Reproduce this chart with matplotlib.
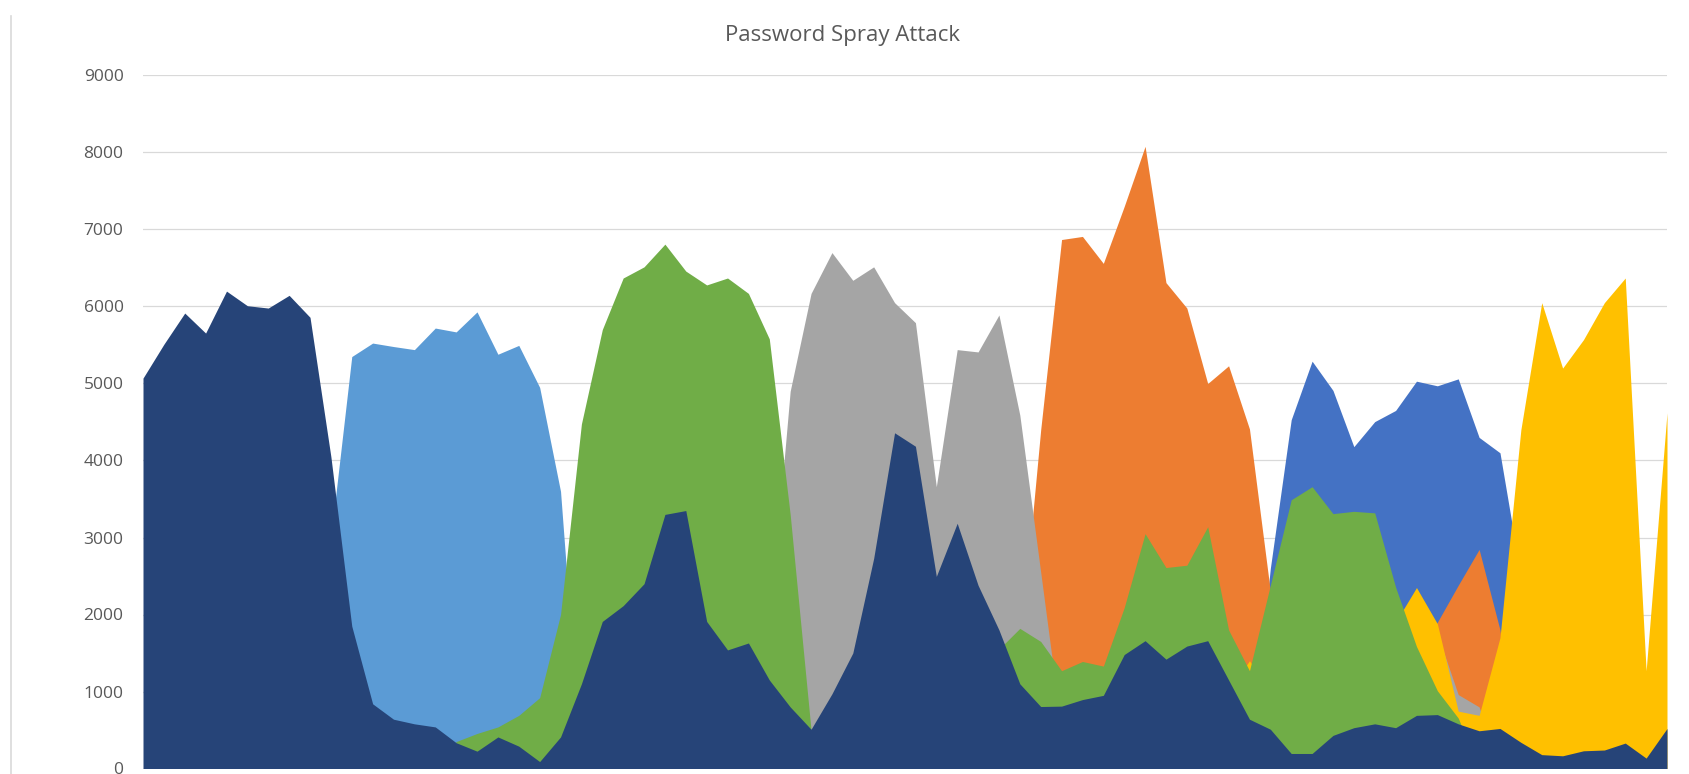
import matplotlib
matplotlib.use("Agg")
import matplotlib.pyplot as plt
from matplotlib.lines import Line2D
import numpy as np

plt.rcParams['font.family'] = ['Open Sans', 'DejaVu Sans']

# one value per time slot, 74 slots; series listed back -> front (Excel order)
s1_blue = [0]*54 + [2600, 4530, 5290, 4910, 4180, 4505, 4650, 5030, 4970, 5060,
                    4300, 4100, 2500] + [0]*7
s2_orange = [0]*42 + [1500, 4400, 6870, 6910, 6560, 7300, 8080, 6310, 5980, 5000,
                      5230, 4410, 2300, 1500, 1500, 1500, 1500, 1500, 1500, 1500,
                      1900, 2380, 2845, 1800] + [0]*8
s3_gray = [0]*30 + [1800, 4900, 6170, 6700, 6340, 6515, 6050, 5790, 3660, 5440,
                    5410, 5890, 4590, 2550, 500] + [0]*16 + [1500, 1750, 960, 800] + [0]*9
s4_yellow = [0]*52 + [1000, 1400, 1000, 1000, 1000, 1000, 1000, 1000, 1900, 2350,
                      1880, 745, 690, 1700, 4400, 6050, 5200, 5570, 6050, 6370,
                      1270, 4620]
s5_lightblue = [0]*9 + [3000, 5350, 5525, 5480, 5440, 5720, 5670, 5930, 5380, 5495,
                        4950, 3600] + [0]*53
s6_green = [0]*15 + [350, 455, 540, 690, 920, 2000, 4475, 5700, 6370, 6515,
                     6810, 6460, 6280, 6370, 6170, 5580, 3300, 500] + [0]*8 + \
           [1550, 1820, 1650, 1270, 1390, 1330, 2090, 3050, 2610, 2640,
            3140, 1800, 1270, 2380, 3490, 3660, 3310, 3340, 3320, 2355,
            1585, 1010, 655] + [0]*10
s7_navy = [5070, 5510, 5915, 5655, 6200, 6010, 5980, 6145, 5860, 4050,
           1850, 840, 640, 580, 540, 335, 225, 410, 290, 90,
           410, 1100, 1910, 2115, 2400, 3300, 3350, 1910, 1540, 1630,
           1150, 800, 510, 970, 1500, 2730, 4360, 4185, 2495, 3185,
           2380, 1800, 1100, 805, 810, 895, 950, 1480, 1660, 1420,
           1590, 1660, 1150, 640, 510, 195, 195, 430, 530, 580,
           530, 690, 700, 580, 490, 520, 340, 180, 165, 230,
           240, 330, 135, 520]

series = [s1_blue, s2_orange, s3_gray, s4_yellow, s5_lightblue, s6_green, s7_navy]
colors = ['#4472C4', '#ED7D31', '#A5A5A5', '#FFC000', '#5B9BD5', '#70AD47', '#264478']
y_ticks = [0, 1000, 2000, 3000, 4000, 5000, 6000, 7000, 8000, 9000]

fig = plt.figure(figsize=(16.9, 7.74), dpi=100)
W, H = 1690, 774
ax = fig.add_axes([143 / W, (H - 768.5) / H, (1667 - 143) / W, (768.5 - 75.5) / H])

x = np.arange(len(s7_navy))
for i, (vals, col) in enumerate(zip(series, colors)):
    ax.fill_between(x, 0, vals, color=col, lw=0, zorder=2 + i)

ax.set_xlim(0, len(x) - 1)
ax.set_ylim(0, 9000)
ax.set_yticks(y_ticks)
ax.set_xticks([])
ax.grid(axis='y', color='#d9d9d9', lw=0.9, zorder=1)
ax.set_axisbelow(True)
for sp in ax.spines.values():
    sp.set_visible(False)
ax.tick_params(axis='y', length=0, pad=14, labelsize=12.5, labelcolor='#595959')

fig.text(843 / W, 1 - 36 / H, 'Password Spray Attack', ha='center', va='center',
         fontsize=16, color='#595959')
fig.add_artist(Line2D([11 / W, 11 / W], [0, 1 - 16 / H], color='#d9d9d9', lw=1.2))

fig.savefig('out.png', dpi=100)
